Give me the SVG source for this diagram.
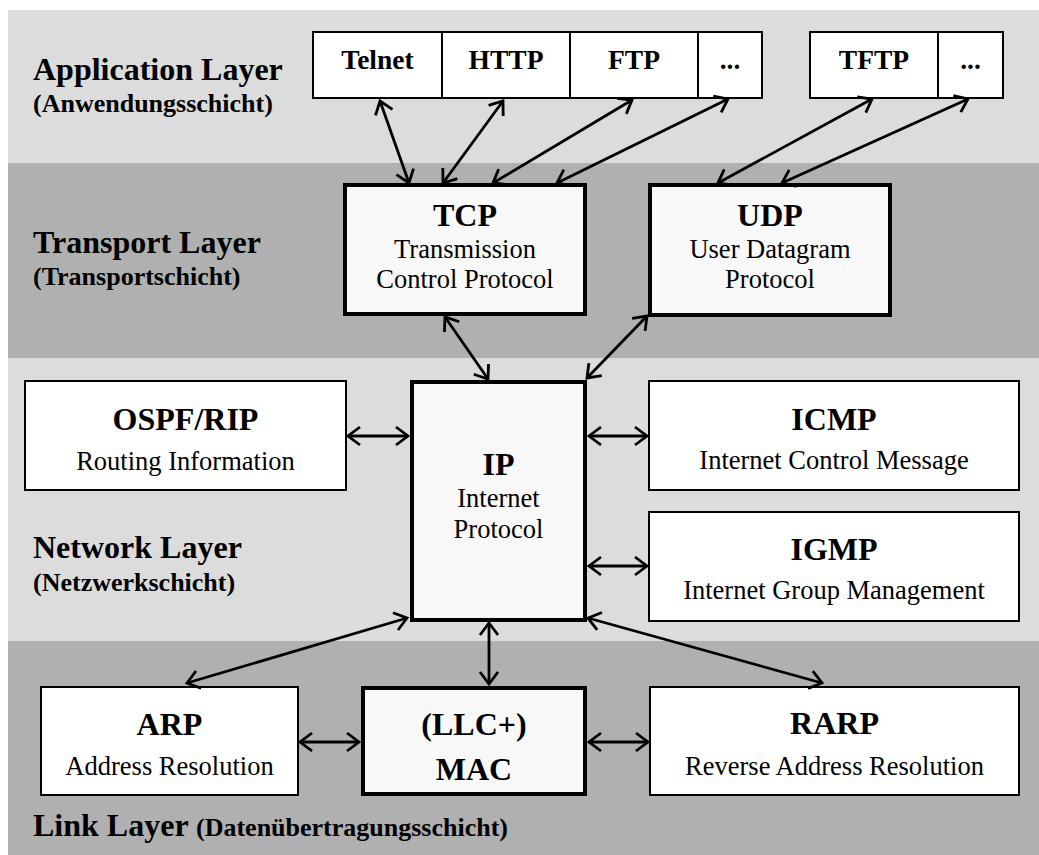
<svg xmlns="http://www.w3.org/2000/svg" width="1039" height="855" viewBox="0 0 1039 855">
  <style>
    text { font-family: "Liberation Serif", "Times New Roman", serif; fill: #000; }
    .layer { font-size: 32px; font-weight: bold; }
    .sub { font-size: 26px; font-weight: bold; }
    .app { font-size: 27.5px; font-weight: bold; text-anchor: middle; }
    .title { font-size: 32px; font-weight: bold; text-anchor: middle; }
    .desc { font-size: 26.5px; text-anchor: middle; }
    .thin { fill: #ffffff; stroke: #000; stroke-width: 2; }
    .thick { fill: #f8f8f8; stroke: #000; stroke-width: 4; }
    .conn line { stroke: #000; stroke-width: 2.8; marker-start: url(#head); marker-end: url(#head); }
  </style>
  <defs>
    <marker id="head" markerUnits="userSpaceOnUse" markerWidth="30" markerHeight="30" refX="0" refY="0" viewBox="-15 -15 30 30" orient="auto-start-reverse" overflow="visible">
      <path d="M -12 -9 L 0 0 L -12 9" fill="none" stroke="#000" stroke-width="2.8" stroke-linejoin="miter"/>
    </marker>
  </defs>

  <!-- layer bands -->
  <rect x="0" y="0" width="1039" height="855" fill="#ffffff"/>
  <rect x="8" y="10" width="1031" height="153" fill="#dcdcdc"/>
  <rect x="8" y="163" width="1031" height="195" fill="#b0b0b0"/>
  <rect x="8" y="358" width="1031" height="283" fill="#dcdcdc"/>
  <rect x="8" y="641" width="1031" height="214" fill="#b0b0b0"/>

  <!-- layer captions -->
  <g id="label-application">
    <text class="layer" x="33" y="80">Application Layer</text>
    <text class="sub" x="33" y="112">(Anwendungsschicht)</text>
  </g>
  <g id="label-transport">
    <text class="layer" x="33" y="253">Transport Layer</text>
    <text class="sub" x="33" y="285">(Transportschicht)</text>
  </g>
  <g id="label-network">
    <text class="layer" x="33" y="558">Network Layer</text>
    <text class="sub" x="33" y="591">(Netzwerkschicht)</text>
  </g>
  <g id="label-link">
    <text x="33" y="836"><tspan class="layer">Link Layer </tspan><tspan class="sub">(Datenübertragungsschicht)</tspan></text>
  </g>

  <!-- application protocols -->
  <g id="telnet">
    <rect class="thin" x="313" y="32" width="129" height="66"/>
    <text class="app" x="377.5" y="69">Telnet</text>
  </g>
  <g id="http">
    <rect class="thin" x="442" y="32" width="128" height="66"/>
    <text class="app" x="506" y="69">HTTP</text>
  </g>
  <g id="ftp">
    <rect class="thin" x="570" y="32" width="128" height="66"/>
    <text class="app" x="634" y="69">FTP</text>
  </g>
  <g id="tcp-more">
    <rect class="thin" x="698" y="32" width="64" height="66"/>
    <text class="app" x="730" y="69">...</text>
  </g>
  <g id="tftp">
    <rect class="thin" x="810" y="32" width="128" height="66"/>
    <text class="app" x="874" y="69">TFTP</text>
  </g>
  <g id="udp-more">
    <rect class="thin" x="938" y="32" width="65" height="66"/>
    <text class="app" x="970.5" y="69">...</text>
  </g>

  <!-- transport -->
  <g id="tcp">
    <rect class="thick" x="345" y="185" width="240" height="129"/>
    <text class="title" x="465" y="226">TCP</text>
    <text class="desc" x="465" y="258">Transmission</text>
    <text class="desc" x="465" y="288">Control Protocol</text>
  </g>
  <g id="udp">
    <rect class="thick" x="650" y="185" width="240" height="130"/>
    <text class="title" x="770" y="226">UDP</text>
    <text class="desc" x="770" y="258">User Datagram</text>
    <text class="desc" x="770" y="288">Protocol</text>
  </g>

  <!-- network -->
  <g id="ospf">
    <rect class="thin" x="25" y="381" width="321" height="109"/>
    <text class="title" x="185.5" y="430">OSPF/RIP</text>
    <text class="desc" x="185.5" y="470">Routing Information</text>
  </g>
  <g id="ip">
    <rect class="thick" x="412" y="382" width="173" height="238"/>
    <text class="title" x="498.5" y="475">IP</text>
    <text class="desc" x="498.5" y="507">Internet</text>
    <text class="desc" x="498.5" y="538">Protocol</text>
  </g>
  <g id="icmp">
    <rect class="thin" x="649" y="381" width="370" height="109"/>
    <text class="title" x="834" y="430">ICMP</text>
    <text class="desc" x="834" y="469">Internet Control Message</text>
  </g>
  <g id="igmp">
    <rect class="thin" x="649" y="512" width="370" height="109"/>
    <text class="title" x="834" y="560">IGMP</text>
    <text class="desc" x="834" y="599">Internet Group Management</text>
  </g>

  <!-- link -->
  <g id="arp">
    <rect class="thin" x="41" y="687" width="257" height="108"/>
    <text class="title" x="169.5" y="735">ARP</text>
    <text class="desc" x="169.5" y="775">Address Resolution</text>
  </g>
  <g id="mac">
    <rect class="thick" x="363" y="688" width="222" height="106"/>
    <text class="title" x="474" y="735">(LLC+)</text>
    <text class="title" x="474" y="780">MAC</text>
  </g>
  <g id="rarp">
    <rect class="thin" x="650" y="687" width="369" height="108"/>
    <text class="title" x="834.5" y="734">RARP</text>
    <text class="desc" x="834.5" y="775">Reverse Address Resolution</text>
  </g>

  <!-- connectors -->
  <g id="connectors" class="conn">
    <line x1="380" y1="101" x2="409" y2="183"/>
    <line x1="503" y1="101" x2="443" y2="183"/>
    <line x1="632" y1="100" x2="493" y2="183"/>
    <line x1="728" y1="99" x2="557" y2="183"/>
    <line x1="872" y1="99" x2="718" y2="183"/>
    <line x1="968" y1="99" x2="782" y2="183"/>
    <line x1="445" y1="317" x2="488" y2="379"/>
    <line x1="647" y1="316" x2="587" y2="378"/>
    <line x1="348" y1="436" x2="408" y2="436"/>
    <line x1="589" y1="436" x2="647" y2="436"/>
    <line x1="589" y1="566" x2="647" y2="566"/>
    <line x1="489" y1="623" x2="489" y2="684"/>
    <line x1="407" y1="618" x2="187" y2="683"/>
    <line x1="588" y1="618" x2="822" y2="683"/>
    <line x1="300" y1="742" x2="359" y2="742"/>
    <line x1="589" y1="742" x2="648" y2="742"/>
  </g>
</svg>
